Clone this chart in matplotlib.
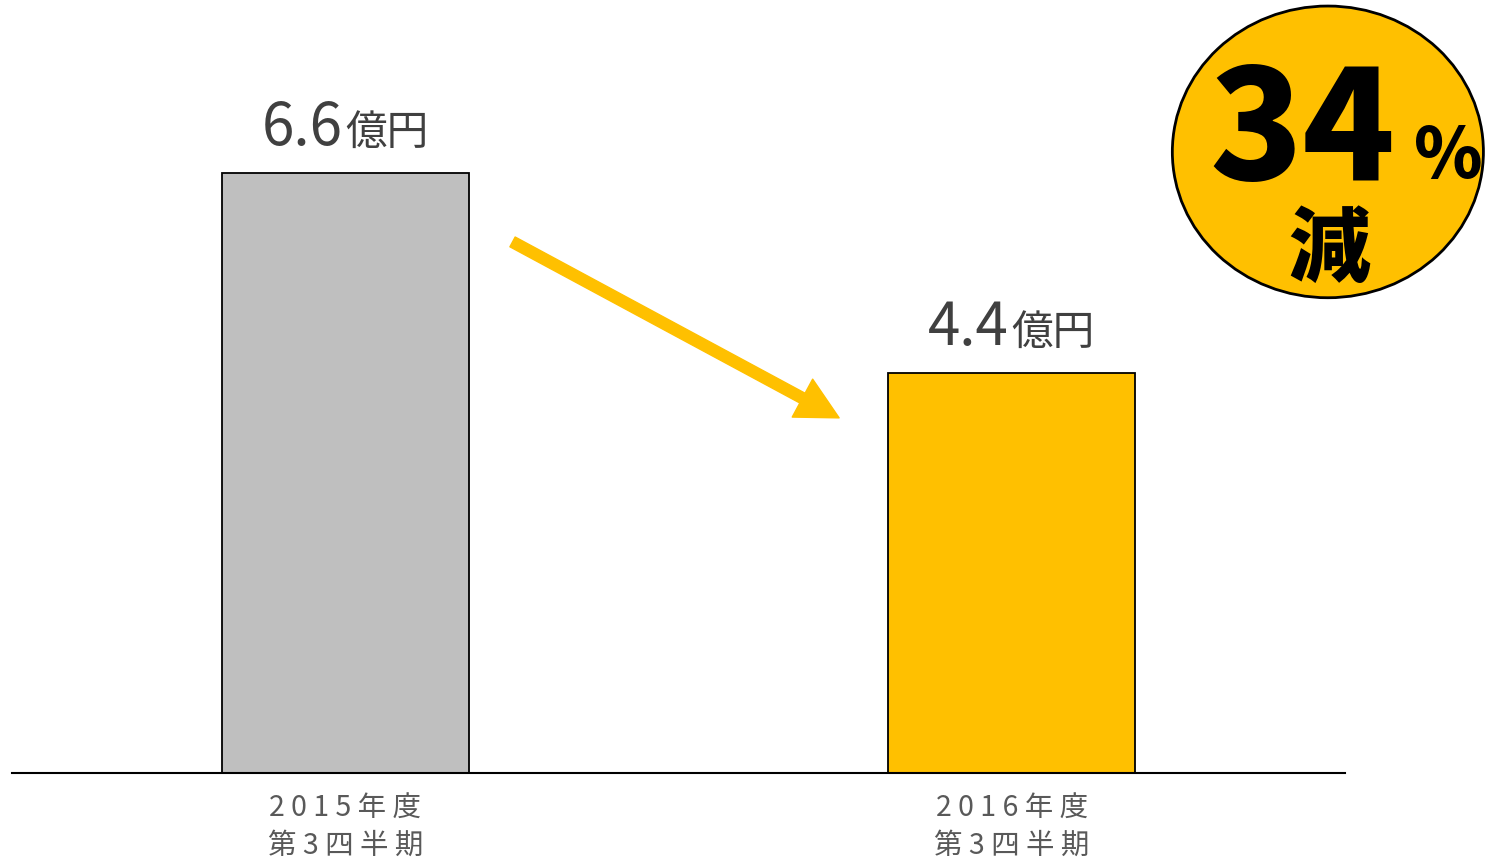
import matplotlib
matplotlib.use('Agg')
import matplotlib.pyplot as plt
from matplotlib.patches import Ellipse

plt.rcParams['font.family'] = ['Noto Sans CJK JP', 'DejaVu Sans']

# data
categories = ['2 0 1 5 年 度\n第 3 四 半 期', '2 0 1 6 年 度\n第 3 四 半 期']
values = [6.6, 4.4]
value_labels = ['6.6', '4.4']
unit = '億円'
bar_colors = ['#BFBFBF', '#FFC000']
change_pct = '34'

fig = plt.figure(figsize=(14.92, 8.63), dpi=100)
ax = fig.add_axes([12 / 1492, 90 / 863, 1333 / 1492, 773 / 863])

x = list(range(len(values)))
ax.bar(x, values, width=0.37, color=bar_colors, edgecolor='black', linewidth=1.3, zorder=2)
ax.set_xlim(-0.5, 1.5)
ax.set_ylim(0, 8.5)

for s in ['top', 'left', 'right']:
    ax.spines[s].set_visible(False)
ax.spines['bottom'].set_linewidth(1.5)
ax.set_yticks([])
ax.set_xticks(x)
ax.set_xticklabels(categories, fontsize=20.5, color='#595959', linespacing=1.3)
ax.tick_params(axis='x', length=0, pad=15)

# value labels: number + smaller unit
for xi, v, lab in zip(x, values, value_labels):
    ax.annotate(lab, xy=(xi, v), xytext=(-2, 20), textcoords='offset points',
                ha='right', va='baseline', fontsize=42, color='#404040')
    ax.annotate(unit, xy=(xi, v), xytext=(0, 20), textcoords='offset points',
                ha='left', va='baseline', fontsize=30, color='#404040')

# arrow between bars
ax.annotate('', xy=(0.741, 3.905), xytext=(0.251, 5.84),
            arrowprops=dict(width=8, headwidth=31, headlength=30,
                            color='#FFC000', shrink=0))

# badge
circ = Ellipse((0.890, 0.824), 0.2085, 0.338, transform=fig.transFigure,
               facecolor='#FFC000', edgecolor='black', linewidth=2)
fig.patches.append(circ)
fig.text(0.873, 0.7914, change_pct, ha='center', va='baseline', fontsize=110,
         fontweight='heavy', color='black')
fig.text(0.948, 0.7937, '%', ha='left', va='baseline', fontsize=50,
         fontweight='heavy', color='black')
fig.text(0.891, 0.7100, '減', ha='center', va='center', fontsize=59,
         fontweight='heavy', color='black')

fig.savefig('out.png', dpi=100)
